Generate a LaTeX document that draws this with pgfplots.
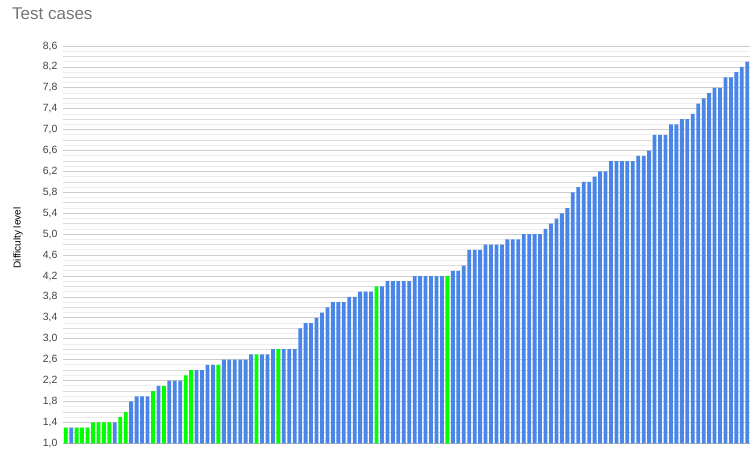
\documentclass[border=0pt]{standalone}
\usepackage{pgfplots}
\usepackage{pgfplotstable}
\pgfplotsset{compat=1.18}
\usepackage{fontspec}
\setmainfont{Liberation Sans}
\definecolor{barblue}{HTML}{4A86E8}
\definecolor{bargreen}{HTML}{00FF00}
\definecolor{ticktext}{HTML}{444444}
\definecolor{titlegray}{HTML}{757575}

\pgfplotstableread{
x y
1 1.3
9 1.4
12 1.8
13 1.9
14 1.9
15 1.9
17 2.1
19 2.2
20 2.2
21 2.2
24 2.4
25 2.4
26 2.5
27 2.5
29 2.6
30 2.6
31 2.6
32 2.6
33 2.6
34 2.7
36 2.7
37 2.7
38 2.8
40 2.8
41 2.8
42 2.8
43 3.2
44 3.3
45 3.3
46 3.4
47 3.5
48 3.6
49 3.7
50 3.7
51 3.7
52 3.8
53 3.8
54 3.9
55 3.9
56 3.9
58 4.0
59 4.1
60 4.1
61 4.1
62 4.1
63 4.1
64 4.2
65 4.2
66 4.2
67 4.2
68 4.2
69 4.2
71 4.3
72 4.3
73 4.4
74 4.7
75 4.7
76 4.7
77 4.8
78 4.8
79 4.8
80 4.8
81 4.9
82 4.9
83 4.9
84 5.0
85 5.0
86 5.0
87 5.0
88 5.1
89 5.2
90 5.3
91 5.4
92 5.5
93 5.8
94 5.9
95 6.0
96 6.0
97 6.1
98 6.2
99 6.2
100 6.4
101 6.4
102 6.4
103 6.4
104 6.4
105 6.5
106 6.5
107 6.6
108 6.9
109 6.9
110 6.9
111 7.1
112 7.1
113 7.2
114 7.2
115 7.3
116 7.5
117 7.6
118 7.7
119 7.8
120 7.8
121 8.0
122 8.0
123 8.1
124 8.2
125 8.3
}\bluedata

\pgfplotstableread{
x y
0 1.3
2 1.3
3 1.3
4 1.3
5 1.4
6 1.4
7 1.4
8 1.4
10 1.5
11 1.6
16 2.0
18 2.1
22 2.3
23 2.4
28 2.5
35 2.7
39 2.8
57 4.0
70 4.2
}\greendata

\begin{document}
\begin{tikzpicture}[x=1pt,y=1pt]
\useasboundingbox (0,0) rectangle (750,451);
\begin{axis}[
  at={(63pt,7.7pt)}, anchor=south west,
  scale only axis,
  width=687pt, height=397.3pt,
  xmin=-0.5, xmax=125.5,
  ymin=1.0, ymax=8.6,
  xtick=\empty,
  ytick={1.0,1.4,1.8,2.2,2.6,3.0,3.4,3.8,4.2,4.6,5.0,5.4,5.8,6.2,6.6,7.0,7.4,7.8,8.2,8.6},
  minor ytick={1.1,1.3,1.5,1.7,1.9,2.1,2.3,2.5,2.7,2.9,3.1,3.3,3.5,3.7,3.9,4.1,4.3,4.5,4.7,4.9,5.1,5.3,5.5,5.7,5.9,6.1,6.3,6.5,6.7,6.9,7.1,7.3,7.5,7.7,7.9,8.1,8.3,8.5},
  extra y ticks={1.2,1.6,2.0,2.4,2.8,3.2,3.6,4.0,4.4,4.8,5.2,5.6,6.0,6.4,6.8,7.2,7.6,8.0,8.4},
  extra y tick labels={},
  extra y tick style={grid=major, major grid style={draw=black!15, line width=0.8pt}},
  ymajorgrids, yminorgrids,
  major grid style={draw=black!20, line width=0.8pt},
  minor grid style={draw=black!7, line width=0.8pt},
  major tick length=0pt, minor tick length=0pt,
  axis x line*=bottom, axis y line*=left,
  y axis line style={draw=none},
  x axis line style={draw=black!30, line width=0.8pt},
  yticklabel style={font=\fontsize{10.5}{12}\selectfont, text=ticktext, xshift=-2pt},
  /pgf/number format/assume math mode=true,
  /pgf/number format/.cd, use comma, fixed, fixed zerofill, precision=1, /pgfplots/.cd,
  ylabel={Difficulty level},
  ylabel style={font=\fontsize{8.5}{10}\selectfont, text=black!85},
  every axis y label/.style={at={(axis description cs:-0.0655,0.517)}, rotate=90, anchor=center},
  clip=true,
]
\addplot[ybar, bar width=0.7, bar shift=0pt, fill=barblue, draw=none] table[x=x,y=y] {\bluedata};
\addplot[ybar, bar width=0.7, bar shift=0pt, fill=bargreen, draw=none] table[x=x,y=y] {\greendata};
\end{axis}
\node[anchor=base west, font=\fontsize{17}{20}\selectfont, text=titlegray, inner sep=0pt] at (12,431) {Test cases};
\end{tikzpicture}
\end{document}
